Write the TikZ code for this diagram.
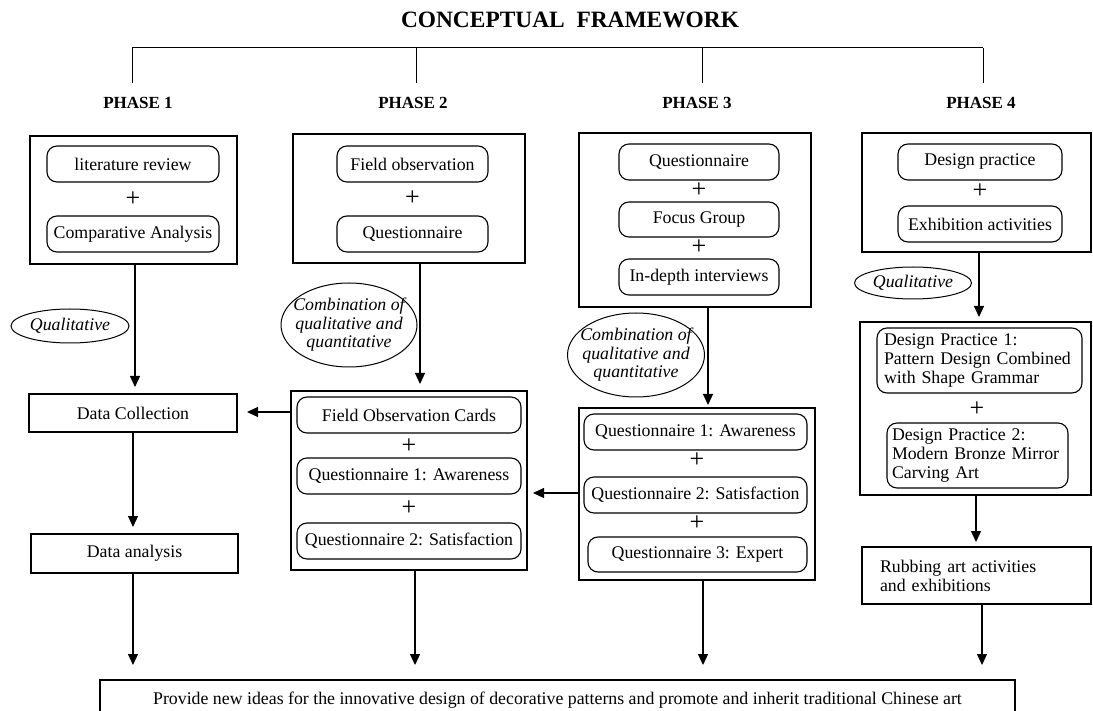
\documentclass[tikz,border=0pt]{standalone}
\usepackage{fontspec}
\setmainfont{Liberation Serif}
\usetikzlibrary{arrows.meta,shapes.geometric,calc}
\begin{document}
\begin{tikzpicture}[x=1pt,y=-1pt,
  every node/.style={font=\fontsize{17.8}{19}\selectfont, inner sep=0pt, outer sep=0pt},
  outerbox/.style={draw, line width=1.2pt, rectangle},
  innerbox/.style={draw, line width=1.1pt, rectangle, rounded corners=10pt, minimum height=36pt},
  plainbox/.style={draw, line width=1.2pt, rectangle},
  plus/.style={font=\fontsize{26}{26}\selectfont},
  phase/.style={font=\fontsize{17}{19}\bfseries},
  lbl/.style={font=\fontsize{17.8}{18.4}\itshape\selectfont, align=center},
  oval/.style={line width=1pt},
  arr/.style={line width=1.2pt, -{Triangle[width=10pt,length=11pt]}},
  ln/.style={line width=1pt}]
\clip (0,0) rectangle (1093,711);
\fill[white] (0,0) rectangle (1093,711);

% title and phases
\node[font=\fontsize{23.4}{25}\bfseries\selectfont] (title) at (570,20) {CONCEPTUAL\ \ FRAMEWORK};
\coordinate (b1) at (132,48);
\coordinate (b2) at (416,48);
\coordinate (b3) at (702,48);
\coordinate (b4) at (983,48);
\coordinate (e1) at (132,83);
\coordinate (e2) at (416,83);
\coordinate (e3) at (702,83);
\coordinate (e4) at (983,83);
\draw[ln] (b1) -- (b4);
\draw[ln] (b1) -- (e1);
\draw[ln] (b2) -- (e2);
\draw[ln] (b3) -- (e3);
\draw[ln] (b4) -- (e4);
\node[phase] (ph1) at (138,103) {PHASE 1};
\node[phase] (ph2) at (413,103) {PHASE 2};
\node[phase] (ph3) at (697,103) {PHASE 3};
\node[phase] (ph4) at (981,103) {PHASE 4};

% ---------- Phase 1
\node[outerbox, minimum width=207pt, minimum height=128pt] (p1top) at (133.5,200) {};
\node[innerbox, minimum width=172pt] (lit) at (133,164) {literature review};
\node[plus] (pl1) at (133,199) {+};
\node[innerbox, minimum width=172pt] (comp) at (133,234) {Comparative Analysis};
\node[ellipse, draw, oval, minimum width=118pt, minimum height=34pt, font=\fontsize{17.8}{19}\itshape\selectfont] (q1) at (70,326) {Qualitative};
\node[plainbox, minimum width=208pt, minimum height=38pt] (dc) at (133,413) {Data Collection};
\node[plainbox, minimum width=207pt, minimum height=39pt] (da) at (134.5,553.5) {Data analysis};

% ---------- Phase 2
\node[outerbox, minimum width=232pt, minimum height=129pt] (p2top) at (409,198.5) {};
\node[innerbox, minimum width=151pt] (fo) at (412.5,164) {Field observation};
\node[plus] (pl2) at (412.5,198) {+};
\node[innerbox, minimum width=151pt] (qq2) at (412.5,234) {Questionnaire};
\node[lbl] (c2) at (349,325) {Combination of\\qualitative and\\quantitative};
\draw[oval] (c2.center) ellipse [x radius=68pt, y radius=42pt];
\node[outerbox, minimum width=236pt, minimum height=179pt] (p2low) at (409,480.5) {};
\node[innerbox, minimum width=224pt] (foc) at (409,415) {Field Observation Cards};
\node[plus] (pl3) at (409,446) {+};
\node[innerbox, minimum width=224pt] (aw2) at (409,476) {Questionnaire 1: Awareness};
\node[plus] (pl4) at (409,508) {+};
\node[innerbox, minimum width=224pt] (sa2) at (409,541) {Questionnaire 2: Satisfaction};

% ---------- Phase 3
\node[outerbox, minimum width=232pt, minimum height=174pt] (p3top) at (695,220) {};
\node[innerbox, minimum width=160pt] (qq3) at (699,162) {Questionnaire};
\node[plus] (pl5) at (699,190) {+};
\node[innerbox, minimum width=160pt, minimum height=35pt] (fg) at (699,219.5) {Focus Group};
\node[plus] (pl6) at (699,247) {+};
\node[innerbox, minimum width=160pt] (idi) at (699,277) {In-depth interviews};
\node[lbl] (c3) at (636,355) {Combination of\\qualitative and\\quantitative};
\draw[oval] (c3.center) ellipse [x radius=68.5pt, y radius=42pt];
\node[outerbox, minimum width=236pt, minimum height=172pt] (p3low) at (697,494) {};
\node[innerbox, minimum width=223pt] (aw3) at (695.5,432) {Questionnaire 1: Awareness};
\node[plus] (pl7) at (697,460) {+};
\node[innerbox, minimum width=223pt] (sa3) at (695.5,495) {Questionnaire 2: Satisfaction};
\node[plus] (pl8) at (697,523) {+};
\node[innerbox, minimum width=219pt, minimum height=35pt] (ex3) at (697.5,554.5) {Questionnaire 3: Expert};

% ---------- Phase 4
\node[outerbox, minimum width=229pt, minimum height=119pt] (p4top) at (976.5,192.5) {};
\node[innerbox, minimum width=164pt] (dp) at (980,162) {Design practice};
\node[plus] (pl9) at (980,191) {+};
\node[innerbox, minimum width=164pt] (ea) at (980,224) {Exhibition activities};
\node[ellipse, draw, oval, minimum width=117pt, minimum height=32pt, font=\fontsize{17.8}{19}\itshape\selectfont] (q4) at (913,283) {Qualitative};
\node[outerbox, minimum width=231pt, minimum height=173pt] (p4low) at (975.5,408.5) {};
\node[innerbox, minimum width=205pt, minimum height=65pt, align=left, text width=191pt] (dp1) at (979.5,360.5) {Design Practice 1:\\Pattern Design Combined\\with Shape Grammar};
\node[plus] (pl10) at (977,409) {+};
\node[innerbox, minimum width=181pt, minimum height=65pt, align=left, text width=171pt] (dp2) at (977.5,455.5) {Design Practice 2:\\Modern Bronze Mirror\\Carving Art};
\node[plainbox, minimum width=229pt, minimum height=57pt, align=left, text width=193pt] (rub) at (976.5,575.5) {Rubbing art activities\\and exhibitions};

% ---------- bottom
\node[plainbox, minimum width=915pt, minimum height=40pt] (goal) at (557.5,700) {Provide new ideas for the innovative design of decorative patterns and promote and inherit traditional Chinese art};

% ---------- connectors
\draw[arr, shorten >=7pt] ([xshift=1.5pt]p1top.south) -- ([xshift=1.5pt]p1top.south |- dc.north);
\draw[arr, shorten >=7pt] (dc.south) -- (dc.south |- da.north);
\draw[arr, shorten >=15pt] ([xshift=-1.5pt]da.south) -- ([xshift=-1.5pt]da.south |- goal.north);

\draw[arr, shorten >=7pt] ([xshift=11pt]p2top.south) -- ([xshift=11pt]p2top.south |- p2low.north);
\draw[arr, shorten >=10pt] ([yshift=68.5pt]p2low.west) -- ([yshift=68.5pt]p2low.west -| dc.east);
\draw[arr, shorten >=15pt] ([xshift=6pt]p2low.south) -- ([xshift=6pt]p2low.south |- goal.north);

\draw[arr, shorten >=3pt] ([xshift=13pt]p3top.south) -- ([xshift=13pt]p3top.south |- p3low.north);
\draw[arr, shorten >=6pt] ([yshift=1pt]p3low.west) -- ([yshift=1pt]p3low.west -| p2low.east);
\draw[arr, shorten >=15pt] ([xshift=6pt]p3low.south) -- ([xshift=6pt]p3low.south |- goal.north);

\draw[arr, shorten >=5pt] ([xshift=2.5pt]p4top.south) -- ([xshift=2.5pt]p4top.south |- p4low.north);
\draw[arr, shorten >=5pt] ([xshift=0.5pt]p4low.south) -- ([xshift=0.5pt]p4low.south |- rub.north);
\draw[arr, shorten >=15pt] ([xshift=5.5pt]rub.south) -- ([xshift=5.5pt]rub.south |- goal.north);
\end{tikzpicture}
\end{document}
